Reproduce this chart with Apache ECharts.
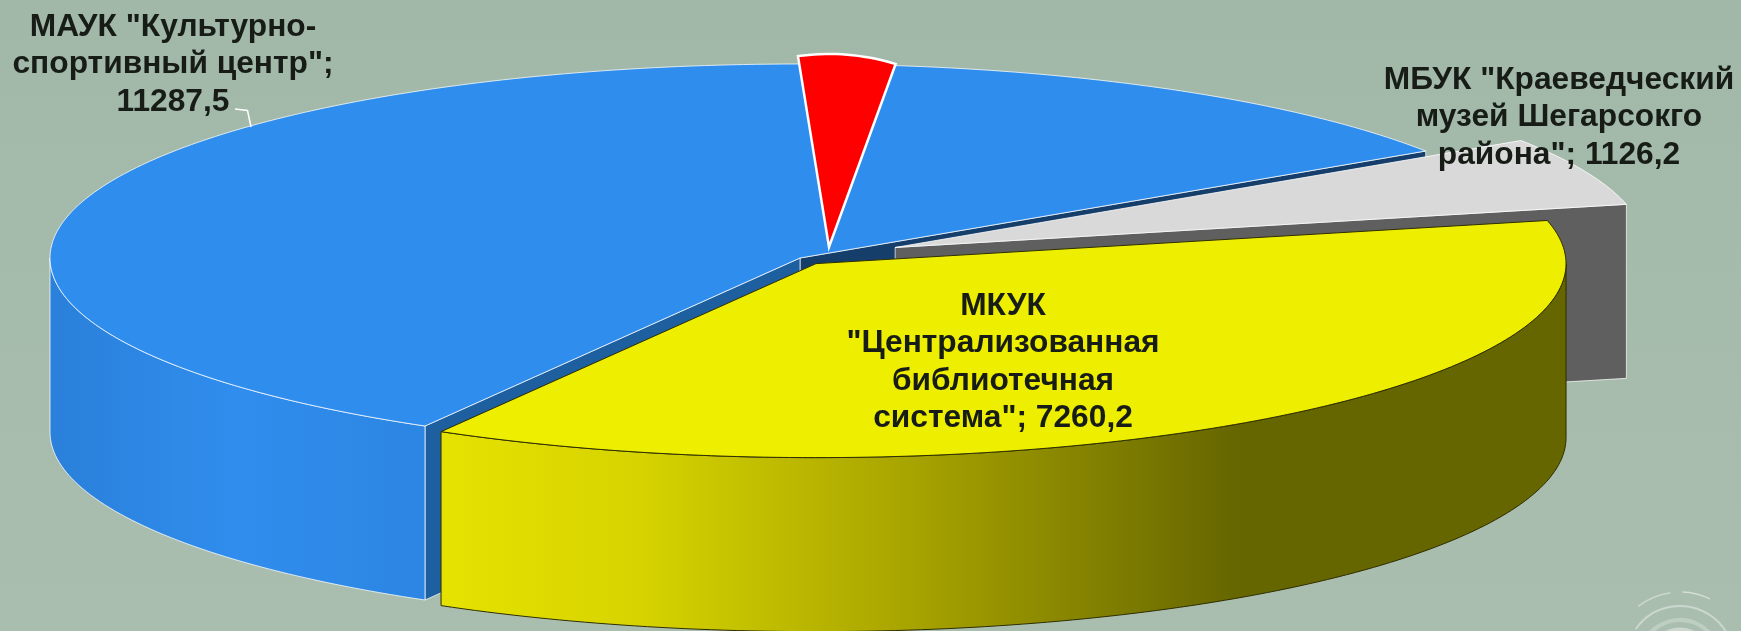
<!DOCTYPE html>
<html><head><meta charset="utf-8">
<style>html,body{margin:0;padding:0;background:#a5bbab}#c{width:1741px;height:631px}</style>
<script src="https://cdn.jsdelivr.net/npm/echarts@6/dist/echarts.min.js"></script>
</head><body><div id="c"></div>
<script>
// data
const categories = ['МАУК "Культурно-\nспортивный центр";\n{v}', 'МБУК "Краеведческий\nмузей Шегарсокго\nрайона"; {v}', 'МКУК\n"Централизованная\nбиблиотечная\nсистема"; {v}'];
const values = [11287.5, 1126.2, 7260.2];
// red accent wedge: angular width (no readable value)
const accentSpanDeg = [27];

// presentation
const explode = [0, 0.138, 0.036];
const CX = 800, CY = 258, RX = 750, RY = 194, DEPTH = 174, START = 120;
const topColors = ['#2f8dee', '#d9d9d9', '#eeee00'];
const topStroke = ['rgba(255,255,255,0.75)', 'rgba(255,255,255,0.8)', '#2e2e00'];
const startFace = ['#1e5f9f', null, null];
const endFace = ['#153e6a', '#5f5f5f', null];
const labelAt = [[173, 27], [1559, 80], [1003, 306]];
const grad = (x, x2, stops) => ({ type: 'linear', global: true, x, y: 0, x2, y2: 0,
  colorStops: stops.map(s => ({ offset: s[0], color: s[1] })) });
const sideFill = [
  grad(50, 425, [[0, '#2a80da'], [0.5, '#308ded'], [1, '#2c85e2']]),
  '#5f5f5f',
  grad(442, 1236, [[0, '#e6e200'], [0.25, '#d6d300'], [0.58, '#a9a500'], [1, '#666600']])
];

const total = values.reduce((a, b) => a + b, 0);
const starts = []; values.reduce((acc, v, i) => { starts[i] = acc; return acc + v / total * 360; }, START);
const rad = d => d * Math.PI / 180;
function pt(c, a, dy) { return [c[0] + RX * Math.cos(rad(a)), c[1] + RY * Math.sin(rad(a)) + (dy || 0)]; }
function arc(c, a, b, dy) { const p = []; const n = Math.max(2, Math.ceil(Math.abs(b - a))); for (let i = 0; i <= n; i++) p.push(pt(c, a + (b - a) * i / n, dy)); return p; }

function renderSlice(params, api) {
  const i = params.dataIndex, v = api.value(0);
  const a = starts[i], b = a + v / total * 360, mid = (a + b) / 2;
  const c = [CX + explode[i] * RX * Math.cos(rad(mid)), CY + explode[i] * RY * Math.sin(rad(mid))];
  const kids = [];
  const face = (ang, color) => { const p = pt(c, ang);
    kids.push({ type: 'polygon', shape: { points: [c, p, [p[0], p[1] + DEPTH], [c[0], c[1] + DEPTH]] },
      style: { fill: color, stroke: 'rgba(255,255,255,0.7)', lineWidth: 1 } }); };
  if (endFace[i]) face(b, endFace[i]);
  if (startFace[i]) face(a, startFace[i]);
  [[0, 180], [360, 540]].forEach(r => {
    const s = Math.max(a, r[0]), e = Math.min(b, r[1]);
    if (e > s) {
      const up = arc(c, s, e), low = arc(c, e, s, DEPTH);
      kids.push({ type: 'polygon', shape: { points: up.concat(low) },
        style: { fill: sideFill[i], stroke: topStroke[i], lineWidth: 1 } });
    }
  });
  kids.push({ type: 'polygon', shape: { points: [c].concat(arc(c, a, b)) },
    style: { fill: topColors[i], stroke: topStroke[i], lineWidth: 1 } });
  return { type: 'group', children: kids };
}

function renderAccent(params, api) {
  const c = [829, 247], rx = 210, ry = 193, a0 = -98.5, span = api.value(0), pts = [c];
  for (let d = 0; d <= span; d += 1.5) pts.push([c[0] + rx * Math.cos(rad(a0 + d)), c[1] + ry * Math.sin(rad(a0 + d))]);
  return { type: 'polygon', shape: { points: pts }, style: { fill: '#ff0000', stroke: '#ffffff', lineWidth: 2.5, lineJoin: 'miter' } };
}

function renderLabel(params, api) {
  const i = params.dataIndex;
  const txt = categories[i].replace('{v}', api.value(0).toFixed(1).replace('.', ','));
  return { type: 'text', z2: 50, x: labelAt[i][0], y: labelAt[i][1] - 18.5, scaleX: 1.04, style: {
    text: txt, fill: '#171c17', font: 'bold 30.5px "Liberation Sans", Arial, sans-serif',
    align: 'center', verticalAlign: 'top', lineHeight: 37.5 } };
}

const ringArc = (cx, cy, r, s, e, w, o) => ({ type: 'arc', silent: true, shape: { cx, cy, r, startAngle: rad(s), endAngle: rad(e) },
  style: { fill: null, stroke: '#ffffff', lineWidth: w, opacity: o } });

const chart = echarts.init(document.getElementById('c'), null, { renderer: 'canvas' });
chart.setOption({
  animation: false,
  backgroundColor: { type: 'linear', x: 0, y: 0, x2: 0, y2: 1, colorStops: [{ offset: 0, color: '#a1b8a8' }, { offset: 1, color: '#aabeaf' }] },
  graphic: [
    ringArc(1680, 660, 68, 232, 262, 1.5, 0.4),
    ringArc(1680, 660, 68, 272, 296, 1.5, 0.5),
    ringArc(1680, 660, 54, 215, 330, 2, 0.4),
    ringArc(1680, 660, 40, 205, 335, 4, 0.25),
    ringArc(1680, 660, 30, 190, 350, 5, 0.4),
    { type: 'polyline', silent: true, z: 5, shape: { points: [[235, 109], [247.5, 110.5], [251, 127]] }, style: { fill: null, stroke: '#ffffff', lineWidth: 1.5 } }
  ],
  series: [
    { type: 'custom', coordinateSystem: 'none', silent: true, clip: false, data: values.map(v => [v]), renderItem: renderSlice, z: 2 },
    { type: 'custom', coordinateSystem: 'none', silent: true, data: accentSpanDeg.map(v => [v]), renderItem: renderAccent, z: 3 },
    { type: 'custom', coordinateSystem: 'none', silent: true, data: values.map(v => [v]), renderItem: renderLabel, z: 4 }
  ]
});
</script></body></html>
